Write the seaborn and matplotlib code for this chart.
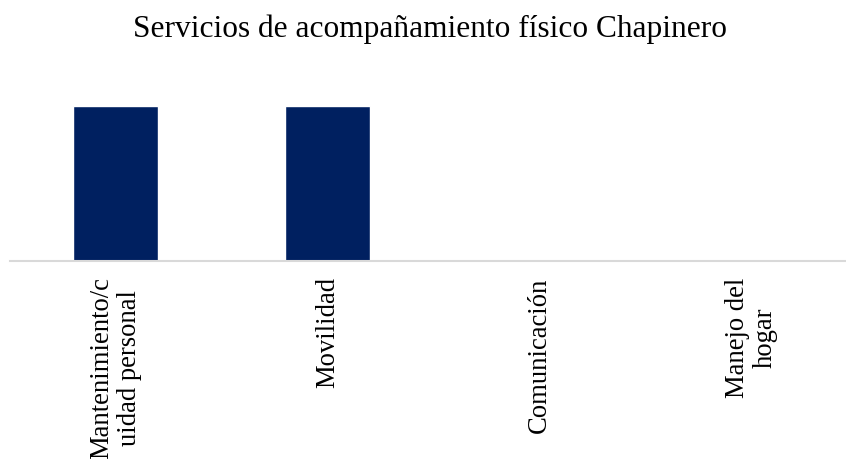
import pandas as pd
import numpy as np
import matplotlib.pyplot as plt
import seaborn as sns

# data
categorias = ['Mantenimiento/c\nuidad personal', 'Movilidad', 'Comunicación', 'Manejo del\nhogar']
valores = [1, 1, 0, 0]
titulo = 'Servicios de acompañamiento físico Chapinero'

df = pd.DataFrame({'categoria': categorias, 'valor': valores})

sns.set_style('white')
plt.rcParams['font.family'] = ['Liberation Serif', 'DejaVu Serif']

W, H = 846, 460
fig = plt.figure(figsize=(W / 100, H / 100), dpi=100)
ax = fig.add_axes([9.5 / W, (H - 262) / H, 848 / W, (262 - 107) / H])

sns.barplot(data=df, x='categoria', y='valor', color='#002060', width=0.4,
            saturation=1, ax=ax)

ax.set_xlim(-0.5, 3.5)
ax.set_ylim(0, 1)
ax.set_xlabel('')
ax.set_ylabel('')
ax.set_yticks([])
for s in ['top', 'right', 'left']:
    ax.spines[s].set_visible(False)
ax.spines['bottom'].set_color('#d9d9d9')
ax.spines['bottom'].set_linewidth(1.5)
ax.tick_params(axis='x', length=0, pad=11, labelsize=19.2, labelcolor='black')
for lbl in ax.get_xticklabels():
    lbl.set_rotation(90)
    lbl.set_ha('center')
    lbl.set_va('top')
    lbl.set_multialignment('center')
    lbl.set_linespacing(1.15)

fig.text(430 / W, 1 - 37 / H, titulo, ha='center', va='baseline',
         fontsize=22.6, color='black')

fig.savefig('out.png', dpi=100)
